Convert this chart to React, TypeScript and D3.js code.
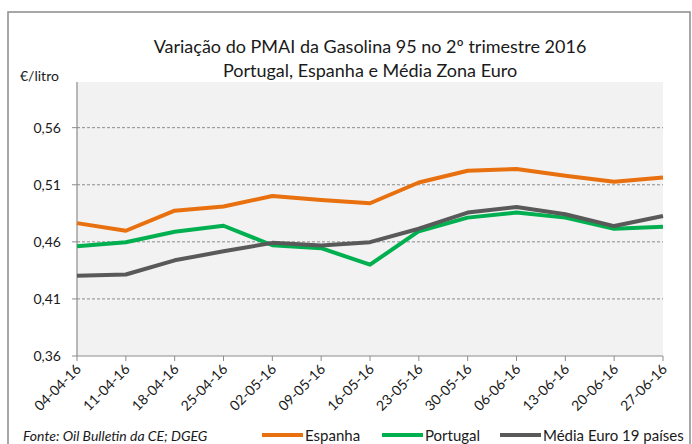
import React from "react";
import * as d3 from "d3";

const dates = ["04-04-16","11-04-16","18-04-16","25-04-16","02-05-16","09-05-16","16-05-16","23-05-16","30-05-16","06-06-16","13-06-16","20-06-16","27-06-16"];
const espanha = [0.4764,0.4697,0.4873,0.4909,0.5002,0.4967,0.4938,0.512,0.5223,0.5238,0.5179,0.5126,0.5164];
const portugal = [0.4561,0.4597,0.4688,0.4741,0.457,0.4544,0.44,0.4693,0.4812,0.4856,0.4812,0.4715,0.4732];
const mediaEuro = [0.4303,0.4314,0.4438,0.4517,0.4591,0.4567,0.4597,0.4715,0.4856,0.4905,0.4841,0.4738,0.4826];
const yTicks = [0.36,0.41,0.46,0.51,0.56];

const seriesNames = ["Espanha","Portugal","Média Euro 19 países"];
const seriesColors = ["#E8700F","#00B050","#595959"];

export default function App() {
  const W = 692, H = 444;
  const left = 77, right = 663, top = 82, bottom = 356;
  const x = d3.scalePoint<string>().domain(dates).range([left, right]);
  const y = d3.scaleLinear().domain([0.36, 0.60]).range([bottom, top]);
  const line = d3.line<number>().x((_, i) => x(dates[i])!).y(d => y(d));
  const all = [espanha, portugal, mediaEuro];
  const font = "Lato, 'Open Sans', sans-serif";
  const fmt = (v: number) => v.toFixed(2).replace(".", ",");
  const legendX = [262, 382, 500];
  return (
    <svg width={W} height={H} style={{ position: "absolute", left: 0, top: 0 }} fontFamily={font}>
      <rect x={0} y={0} width={W} height={H} fill="#fff" />
      <rect x={8} y={12} width={682} height={H} fill="none" stroke="#8a8a8a" strokeWidth={1.5} />
      <text x={370} y={53} textAnchor="middle" fontSize={18} fill="#1a1a1a">Variação do PMAI da Gasolina 95 no 2º trimestre 2016</text>
      <text x={370} y={77} textAnchor="middle" fontSize={18} fill="#1a1a1a">Portugal, Espanha e Média Zona Euro</text>
      <text x={20} y={81} fontSize={14} fill="#1a1a1a">€/litro</text>
      <rect x={left} y={top} width={right - left} height={bottom - top} fill="#f2f2f2" />
      {yTicks.filter(t => t > 0.36).map(t => (
        <line key={t} x1={left} x2={right} y1={y(t)} y2={y(t)} stroke="#8c8c8c" strokeWidth={1} strokeDasharray="3,2" />
      ))}
      <line x1={left} x2={left} y1={top} y2={bottom} stroke="#8c8c8c" strokeWidth={1.2} />
      <line x1={left} x2={right} y1={bottom} y2={bottom} stroke="#8c8c8c" strokeWidth={1.2} />
      {yTicks.map(t => (
        <g key={t}>
          <line x1={left - 5} x2={left} y1={y(t)} y2={y(t)} stroke="#8c8c8c" />
          <text x={61} y={y(t) + 5} textAnchor="end" fontSize={14} fill="#1a1a1a">{fmt(t)}</text>
        </g>
      ))}
      {dates.map(d => (
        <g key={d}>
          <line x1={x(d)!} x2={x(d)!} y1={bottom} y2={bottom + 5} stroke="#8c8c8c" />
          <text transform={`translate(${x(d)! + 5},${bottom + 14}) rotate(-45)`} textAnchor="end" fontSize={14} fill="#1a1a1a">{d}</text>
        </g>
      ))}
      {all.map((s, i) => (
        <path key={i} d={line(s)!} fill="none" stroke={seriesColors[i]} strokeWidth={4} strokeLinejoin="round" />
      ))}
      <text x={23} y={441} fontSize={14} fontStyle="italic" fill="#1a1a1a">Fonte: Oil Bulletin da CE; DGEG</text>
      {seriesNames.map((n, i) => (
        <g key={n}>
          <line x1={legendX[i]} x2={legendX[i] + 41} y1={435} y2={435} stroke={seriesColors[i]} strokeWidth={4} />
          <text x={legendX[i] + 43} y={441} fontSize={15} fill="#1a1a1a">{n}</text>
        </g>
      ))}
    </svg>
  );
}
